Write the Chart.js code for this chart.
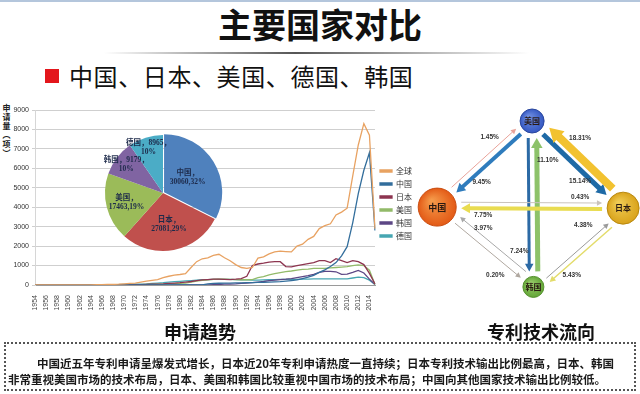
<!DOCTYPE html>
<html lang="zh">
<head>
<meta charset="UTF-8" />
<title>主要国家对比</title>
<script src="https://cdn.jsdelivr.net/npm/chart.js"></script>
<style>
  * { box-sizing: border-box; margin: 0; padding: 0; }
  body {
    width: 640px; height: 394px; position: relative; overflow: hidden;
    background: #fff; color: #111;
    font-family: "Noto Sans CJK SC", "Liberation Sans", sans-serif;
  }
  .topline { position: absolute; left: 0; top: 0; width: 640px; height: 2px; background: #b4c6dc; }
  .title {
    position: absolute; left: 0; top: 7px; width: 640px; text-align: center;
    font-size: 34px; line-height: 34px; font-weight: 700;
  }
  .rule {
    position: absolute; left: 104px; top: 52px; width: 425px; height: 2px;
    background: linear-gradient(to right, rgba(90,90,90,0), #555 45%, rgba(90,90,90,0));
  }
  .sq { position: absolute; left: 45px; top: 69px; width: 14px; height: 14px; background: #e3161c; }
  .sub { position: absolute; left: 69px; top: 64px; font-size: 24px; line-height: 24px; letter-spacing: 0.6px; }
  .ytitle {
    position: absolute; left: 2px; top: 103px; width: 9px; text-align: center;
    font-size: 8px; line-height: 9px; font-weight: 700; color: #222;
  }
  canvas { position: absolute; }
  #trend { left: 0; top: 64px; }
  #share { left: 98px; top: 128px; }
  #flow { left: 380px; top: 100px; }
  .cap { position: absolute; top: 322px; font-size: 18px; line-height: 18px; font-weight: 700; }
  .note {
    position: absolute; left: 4px; top: 342px; width: 632px; height: 49px;
    border: 2px dotted #555;
  }
  .line { position: absolute; font-size: 11.5px; line-height: 12px; font-weight: 700; color: #1a1a1a; white-space: nowrap; }
</style>
</head>
<body>
  <div class="topline"></div>
  <div class="title">主要国家对比</div>
  <div class="rule"></div>
  <div class="sq"></div>
  <div class="sub">中国、日本、美国、德国、韩国</div>
  <div class="ytitle">申<br>请<br>量<br>︵<br>项<br>︶</div>

  <canvas id="trend" width="422" height="256"></canvas>
  <canvas id="share" width="130" height="130"></canvas>
  <canvas id="flow" width="260" height="210"></canvas>

  <div class="cap" style="left:164px">申请趋势</div>
  <div class="cap" style="left:487px">专利技术流向</div>

  <div class="note"></div>
  <div class="line" style="left:37px; top:357px">中国近五年专利申请呈爆发式增长，日本近20年专利申请热度一直持续；日本专利技术输出比例最高，日本、韩国</div>
  <div class="line" style="left:8px; top:373px">非常重视美国市场的技术布局，日本、美国和韩国比较重视中国市场的技术布局；中国向其他国家技术输出比例较低。</div>

<script>
// ---- application trend, 1954-2015 ----
const years = [1954, 1955, 1956, 1957, 1958, 1959, 1960, 1961, 1962, 1963,
  1964, 1965, 1966, 1967, 1968, 1969, 1970, 1971, 1972, 1973,
  1974, 1975, 1976, 1977, 1978, 1979, 1980, 1981, 1982, 1983,
  1984, 1985, 1986, 1987, 1988, 1989, 1990, 1991, 1992, 1993,
  1994, 1995, 1996, 1997, 1998, 1999, 2000, 2001, 2002, 2003,
  2004, 2005, 2006, 2007, 2008, 2009, 2010, 2011, 2012, 2013,
  2014, 2015];

const worldApps = [0, 0, 0, 0, 0, 0, 0, 5, 5, 10,
  10, 15, 20, 25, 30, 40, 60, 80, 100, 150,
  200, 240, 280, 380, 450, 510, 540, 580, 900, 1200,
  1350, 1400, 1520, 1580, 1400, 1250, 1050, 900, 860, 900,
  1380, 1450, 1600, 1700, 1740, 1720, 1700, 2000, 2100, 2350,
  2500, 2900, 3050, 3150, 3600, 3750, 3950, 5600, 7200, 8300,
  7700, 2900];
const chinaApps = [0, 0, 0, 0, 0, 0, 0, 0, 0, 0,
  0, 0, 0, 0, 0, 0, 0, 0, 0, 0,
  0, 0, 0, 0, 0, 0, 0, 0, 0, 0,
  0, 60, 80, 90, 100, 100, 110, 110, 120, 120,
  130, 140, 150, 160, 170, 200, 230, 260, 330, 400,
  500, 650, 780, 950, 1150, 1500, 1970, 3200, 4700, 5900,
  6800, 2800];
const japanApps = [0, 0, 0, 0, 0, 0, 0, 0, 0, 0,
  0, 0, 0, 0, 0, 0, 5, 10, 15, 20,
  30, 40, 50, 60, 80, 100, 120, 150, 180, 220,
  260, 280, 300, 300, 290, 280, 300, 330, 450, 1000,
  1080, 1120, 1180, 1200, 1200, 950, 930, 1000, 1050, 1100,
  1150, 1250, 1250, 1150, 1350, 1250, 1150, 1250, 1200, 1050,
  600, 50];
const usaApps = [0, 0, 0, 0, 0, 0, 0, 0, 0, 0,
  0, 0, 0, 0, 0, 0, 5, 10, 15, 20,
  25, 30, 40, 50, 60, 70, 80, 100, 150, 200,
  240, 270, 290, 300, 300, 290, 280, 270, 270, 280,
  380, 430, 520, 580, 640, 690, 720, 760, 800, 820,
  850, 850, 860, 880, 900, 920, 940, 1000, 1030, 1000,
  760, 30];
const koreaApps = [0, 0, 0, 0, 0, 0, 0, 0, 0, 0,
  0, 0, 0, 0, 0, 0, 0, 0, 0, 0,
  0, 0, 0, 0, 0, 0, 0, 0, 0, 0,
  0, 10, 20, 30, 40, 50, 60, 80, 100, 120,
  150, 180, 220, 250, 280, 300, 330, 380, 430, 480,
  550, 650, 700, 700, 680, 550, 560, 650, 750, 620,
  300, 30];
const germanyApps = [0, 0, 0, 0, 0, 0, 0, 0, 5, 5,
  10, 10, 15, 15, 20, 20, 25, 30, 40, 50,
  60, 80, 100, 120, 150, 170, 190, 210, 230, 250,
  270, 280, 290, 290, 290, 290, 280, 270, 260, 250,
  250, 260, 270, 280, 290, 290, 290, 290, 300, 300,
  310, 320, 320, 320, 320, 310, 320, 360, 400, 380,
  250, 30];

const yTicks = [0, 1000, 2000, 3000, 4000, 5000, 6000, 7000, 8000, 9000];

// ---- share of applications (pie) ----
const pieNames = ['中国', '日本', '美国', '韩国', '德国'];
const pieValues = [30060, 27081, 17463, 9179, 8965];

// ---- technology flow between countries ----
const nodeNames = ['美国', '中国', '日本', '韩国'];
const nodeX = [58.5, 22, 93.5, 59];
const nodeY = [90, 49, 48.5, 11];
const flowFrom = ['中国', '美国', '美国', '日本', '美国', '韩国', '中国', '日本', '韩国', '中国', '韩国', '日本'];
const flowTo   = ['美国', '中国', '日本', '美国', '韩国', '美国', '日本', '中国', '中国', '韩国', '日本', '韩国'];
const flowShare = [1.45, 9.45, 15.14, 18.31, 7.24, 11.10, 0.43, 7.75, 3.97, 0.20, 4.38, 5.43];

// styles
const lineColors = ['#e8a262', '#336e9c', '#8d3550', '#93bb6a', '#5c4785', '#47a6b2'];
const pieColors = ['#4f81bd', '#c0504d', '#9bbb59', '#8064a2', '#4bacc6'];
const pieLabelRadius = [0.5, 0.55, 0.65, 0.8, 0.83];
const nodeRadius = [12, 19, 16, 10.5];
const nodeColor = ['#3558c2', '#e35a16', '#d9a31b', '#64a638'];
const nodeLight = ['#6f8ee0', '#f59a4a', '#f0cc55', '#98cc6a'];
const nodeEdge = ['#2a469c', '#c94c10', '#b8880f', '#54902d'];
const nodeFont = [8, 9, 8, 8];
const edgeWidth = [1, 4, 5, 8, 3, 5, 1, 4, 1, 1, 1, 1.5];
const edgeOffset = [-5, -2, 2, 7, 4, 4.5, -5, -1, 7, 1, 2, -7];
const edgeColor = ['#e9a39a', '#2f7cbd', '#1e6aa6', '#f2c230', '#2c6aa5', '#8dc26a',
  '#c9c3bd', '#e9dc50', '#a8a8a8', '#b0a8a0', '#9a9a9a', '#e3dc6a'];
const shareShift = [[5, -27], [-3, 18], [2.5, 17], [2.5, -26], [-13.5, 47.5], [15, -44],
  [50, -10], [-47, 7.5], [-2, -18.5], [10, 28], [5, -22.5], [-6.5, 27.5]];

const series = [
  ['全球', worldApps], ['中国', chinaApps], ['日本', japanApps],
  ['美国', usaApps], ['韩国', koreaApps], ['德国', germanyApps]
];

new Chart(document.getElementById('trend'), {
  type: 'line',
  data: {
    labels: years,
    datasets: series.map(([name, vals], i) => ({
      label: name,
      data: vals,
      borderColor: lineColors[i],
      backgroundColor: lineColors[i],
      borderWidth: 1.3,
      pointRadius: 0,
      tension: 0,
      fill: false
    }))
  },
  options: {
    responsive: false,
    animation: false,
    events: [],
    layout: { padding: { top: 46 } },
    plugins: {
      tooltip: { enabled: false },
      legend: {
        position: 'right',
        fullSize: false,
        title: { display: true, text: '', font: { size: 10 } },
        labels: {
          boxWidth: 12, boxHeight: 2, padding: 5, color: '#333',
          font: { size: 8, family: '"Noto Sans CJK SC", sans-serif' }
        }
      }
    },
    scales: {
      x: {
        grid: { display: false },
        border: { color: '#9a9a9a' },
        ticks: {
          autoSkip: false, minRotation: 90, maxRotation: 90, padding: 2,
          color: '#444', font: { size: 7, family: '"Liberation Sans", sans-serif' },
          callback: (v, i) => (i % 2 === 0 ? String(years[i]) : '')
        },
        afterFit: s => { s.height = 35; }
      },
      y: {
        min: yTicks[0], max: yTicks[yTicks.length - 1],
        afterBuildTicks: s => { s.ticks = yTicks.map(v => ({ value: v })); },
        grid: { color: '#cfcfcf', tickLength: 3 },
        border: { color: '#d6d6d6' },
        ticks: {
          padding: 3, color: '#333', font: { size: 7, family: '"Liberation Sans", sans-serif' },
          callback: v => String(v)
        },
        afterFit: s => { s.width = 35; }
      }
    }
  }
});

// labels inside pie slices
const pieTotal = pieValues.reduce((a, b) => a + b, 0);
const pieLabels = {
  id: 'pieLabels',
  afterDatasetsDraw(chart) {
    const { ctx } = chart;
    const meta = chart.getDatasetMeta(0);
    ctx.save();
    ctx.font = 'bold 7.5px "Liberation Serif", "Noto Sans CJK SC", serif';
    ctx.fillStyle = '#1d2a4a';
    ctx.textAlign = 'center';
    ctx.textBaseline = 'middle';
    meta.data.forEach((arc, i) => {
      const p = arc.getProps(['x', 'y', 'startAngle', 'endAngle', 'outerRadius'], true);
      const mid = (p.startAngle + p.endAngle) / 2;
      const r = p.outerRadius * pieLabelRadius[i];
      const cx = p.x + Math.cos(mid) * r;
      const cy = p.y + Math.sin(mid) * r;
      const pct = Math.round(pieValues[i] / pieTotal * 100) + '%';
      const lines = pieValues[i] / pieTotal < 0.15
        ? [pieNames[i] + '，' + pieValues[i] + '，', pct]
        : [pieNames[i] + '，', pieValues[i] + ',' + pct];
      lines.forEach((t, k) => ctx.fillText(t, cx, cy + (k - 0.5) * 9));
    });
    ctx.restore();
  }
};

new Chart(document.getElementById('share'), {
  type: 'pie',
  data: {
    labels: pieNames,
    datasets: [{
      data: pieValues,
      backgroundColor: pieColors,
      borderWidth: 0,
      offset: [5, 0, 0, 0, 0]
    }]
  },
  options: {
    responsive: false,
    animation: false,
    events: [],
    radius: 58,
    plugins: { legend: { display: false }, tooltip: { enabled: false } }
  },
  plugins: [pieLabels]
});

// arrows and labels of the flow diagram
const flowDraw = {
  id: 'flowDraw',
  beforeDatasetsDraw(chart) {
    const { ctx, scales: { x, y } } = chart;
    const at = name => {
      const i = nodeNames.indexOf(name);
      return { x: x.getPixelForValue(nodeX[i]), y: y.getPixelForValue(nodeY[i]), r: nodeRadius[i] };
    };
    ctx.save();
    flowFrom.forEach((from, i) => {
      const a = at(from), b = at(flowTo[i]);
      const len = Math.hypot(b.x - a.x, b.y - a.y);
      const ux = (b.x - a.x) / len, uy = (b.y - a.y) / len;
      const nx = -uy, ny = ux, off = edgeOffset[i];
      const sx = a.x + ux * (a.r + 5) + nx * off, sy = a.y + uy * (a.r + 5) + ny * off;
      const ex = b.x - ux * (b.r + 5) + nx * off, ey = b.y - uy * (b.r + 5) + ny * off;
      const w = edgeWidth[i];
      const head = 4 + w * 1.2, hw = 2 + w * 0.75;
      ctx.strokeStyle = edgeColor[i];
      ctx.fillStyle = edgeColor[i];
      ctx.lineWidth = w;
      ctx.beginPath();
      ctx.moveTo(sx, sy);
      ctx.lineTo(ex - ux * head * 0.9, ey - uy * head * 0.9);
      ctx.stroke();
      ctx.beginPath();
      ctx.moveTo(ex, ey);
      ctx.lineTo(ex - ux * head + nx * hw, ey - uy * head + ny * hw);
      ctx.lineTo(ex - ux * head - nx * hw, ey - uy * head - ny * hw);
      ctx.closePath();
      ctx.fill();
    });
    ctx.restore();
  },
  afterDatasetsDraw(chart) {
    const { ctx, scales: { x, y } } = chart;
    const at = name => {
      const i = nodeNames.indexOf(name);
      return { x: x.getPixelForValue(nodeX[i]), y: y.getPixelForValue(nodeY[i]) };
    };
    ctx.save();
    ctx.textAlign = 'center';
    ctx.textBaseline = 'middle';
    nodeNames.forEach((n, i) => {
      const p = at(n);
      ctx.font = 'bold ' + nodeFont[i] + 'px "Noto Sans CJK SC", sans-serif';
      ctx.fillStyle = '#2a1a12';
      ctx.fillText(n, p.x, p.y);
    });
    ctx.font = 'bold 6.5px "Liberation Sans", sans-serif';
    ctx.fillStyle = '#333';
    flowFrom.forEach((from, i) => {
      const a = at(from), b = at(flowTo[i]);
      ctx.fillText(flowShare[i].toFixed(2) + '%',
        (a.x + b.x) / 2 + shareShift[i][0], (a.y + b.y) / 2 + shareShift[i][1]);
    });
    ctx.restore();
  }
};

// soft radial shading for the country circles
const nodeFill = c => {
  const i = c.dataIndex, ch = c.chart;
  if (!ch.chartArea) return nodeColor[i];
  const px = ch.scales.x.getPixelForValue(nodeX[i]);
  const py = ch.scales.y.getPixelForValue(nodeY[i]);
  const r = nodeRadius[i];
  const g = ch.ctx.createRadialGradient(px - r * 0.3, py - r * 0.35, 1, px, py, r);
  g.addColorStop(0, nodeLight[i]);
  g.addColorStop(1, nodeColor[i]);
  return g;
};

new Chart(document.getElementById('flow'), {
  type: 'scatter',
  data: {
    datasets: [{
      data: nodeNames.map((n, i) => ({ x: nodeX[i], y: nodeY[i] })),
      pointRadius: nodeRadius,
      pointBackgroundColor: nodeFill,
      pointBorderColor: nodeEdge,
      pointBorderWidth: 1,
      clip: false
    }]
  },
  options: {
    responsive: false,
    animation: false,
    events: [],
    layout: { padding: 0, autoPadding: false },
    plugins: { legend: { display: false }, tooltip: { enabled: false } },
    scales: {
      x: { display: false, min: 0, max: 100 },
      y: { display: false, min: 0, max: 100 }
    }
  },
  plugins: [flowDraw]
});
</script>
</body>
</html>
